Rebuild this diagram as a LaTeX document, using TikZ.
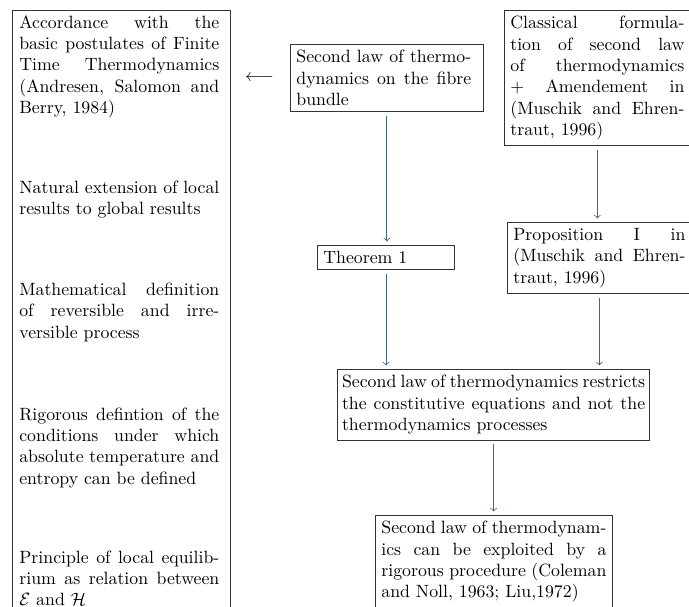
\documentclass[tikz,border=0pt]{standalone}
\tolerance=10000
\pretolerance=10000
\hbadness=10000
\definecolor{lineteal}{HTML}{3F6878}
\definecolor{linebrown}{HTML}{7A5E40}
\begin{document}
\begin{tikzpicture}[x=0.5625pt,y=-0.5625pt,
  frame/.style={draw=black!80, line width=0.5pt, anchor=north west, inner sep=3.33pt, text=black},
  box/.style={frame, align=justify},
  lefttext/.style={anchor=base west, inner sep=0pt, text width=112.5pt, align=justify, text=black},
  arr/.style={->, line width=0.45pt, shorten <=2pt, shorten >=2pt},
  arrt/.style={arr, draw=lineteal},
  arrb/.style={arr, draw=linebrown}]
\useasboundingbox (0,0) rectangle (689,606);
\clip (0,0) rectangle (689,606);
\fill[white] (0,0) rectangle (689,606);

% left column
\node[frame, inner sep=0pt, minimum width=122.6pt, minimum height=393.75pt] (leftcol) at (12,10) {};
\node[lefttext] (l1) at (19,28.3) {Accordance with the\linebreak basic postulates of Finite\linebreak Time Thermodynamics\linebreak (Andresen, Salomon and\linebreak Berry, 1984)};
\node[lefttext] (l2) at (19,193) {Natural extension of local\linebreak results to global results};
\node[lefttext] (l3) at (19,295.5) {Mathematical definition\linebreak of reversible and irre-\linebreak versible process};
\node[lefttext] (l4) at (19,420) {Rigorous defintion of the\linebreak conditions under which\linebreak absolute temperature and\linebreak entropy can be defined};
\node[lefttext] (l5) at (19,563) {Principle of local equilib-\linebreak rium as relation between\linebreak $\mathcal{E}$ and $\mathcal{H}$};

% arrow symbol
\node[anchor=base, inner sep=0pt] (larrow) at (259.5,81.4) {$\longleftarrow$};

% boxes
\node[frame] (fibre) at (290,44) {\parbox[t]{98.4pt}{Second law of thermo-\linebreak dynamics on the fibre\linebreak bundle}\hspace*{3.4pt}};
\node[box, text width=70.4pt, align=left] (theorem) at (317,245) {Theorem 1};
\node[box, text width=97.9pt] (classical) at (504,10) {Classical formula-\linebreak tion of second law\linebreak of thermodynamics\linebreak $+$ Amendement in\linebreak (Muschik and Ehren-\linebreak traut, 1996)};
\node[box, text width=96.8pt] (prop) at (507,222) {Proposition I in\linebreak (Muschik and Ehren-\linebreak traut, 1996)};
\node[box, text width=170.5pt, inner xsep=2.6pt] (middle) at (337,369) {Second law of thermodynamics restricts\linebreak the constitutive equations and not the\linebreak thermodynamics processes};
\node[box, text width=126.6pt] (bottom) at (375,515) {Second law of thermodynam-\linebreak ics can be exploited by a\linebreak rigorous procedure (Coleman\linebreak and Noll, 1963; Liu,1972)};

% connectors
\draw[arrt] (fibre.south) -- (fibre.south |- theorem.north);
\draw[arrb] (classical.south) -- (classical.south |- prop.north);
\draw[arrt] (theorem.south) -- (theorem.south |- middle.north);
\draw[arrt] (prop.south) -- (prop.south |- middle.north);
\draw[arrb] (middle.south) -- (middle.south |- bottom.north);
\end{tikzpicture}
\end{document}
